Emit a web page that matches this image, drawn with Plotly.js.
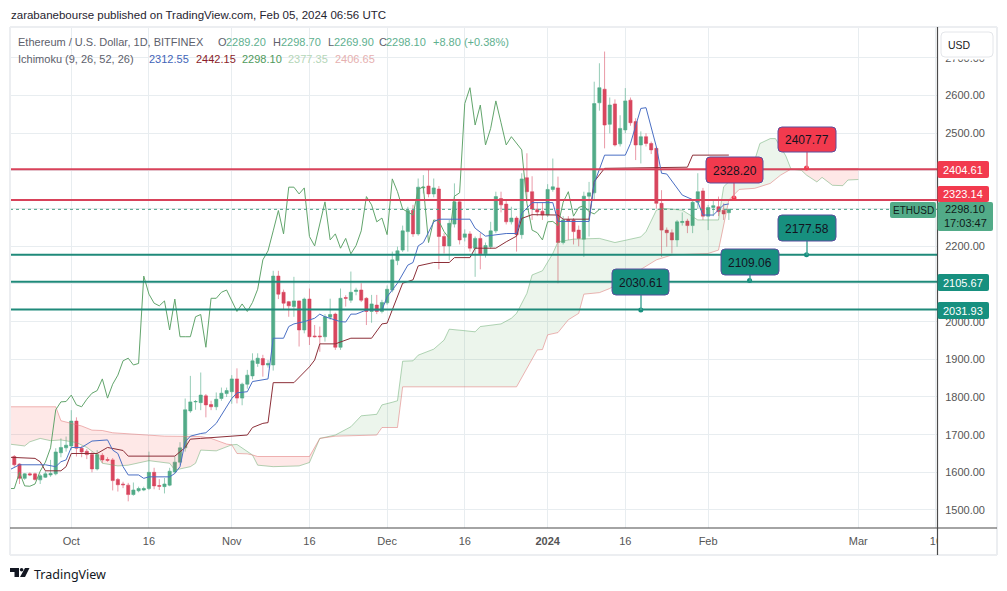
<!DOCTYPE html>
<html><head><meta charset="utf-8">
<script src="https://cdn.plot.ly/plotly-3.0.1.min.js"></script>
<style>html,body{margin:0;padding:0;background:#fff}#c{width:1007px;height:591px}</style></head>
<body><div id="c"></div>
<script>
const opens=[1642,1622,1584,1596,1596,1580,1587,1593,1596,1652,
1665,1670,1736,1664,1656,1647,1609,1645,1634,1633,
1581,1569,1566,1541,1551,1553,1557,1600,1565,1562,
1566,1601,1627,1665,1763,1787,1785,1803,1780,1774,
1796,1809,1814,1848,1797,1834,1856,1889,1902,1885,
1885,2121,2078,2053,2040,2055,1978,2060,1962,1962,
1960,2012,2020,1932,2064,2057,2080,2084,2062,2027,
2044,2027,2050,2084,2162,2190,2239,2296,2233,2355,
2360,2339,2352,2226,2201,2259,2318,2224,2233,2195,
2221,2180,2199,2241,2327,2312,2265,2275,2231,2382,
2345,2298,2293,2283,2351,2355,2210,2271,2270,2243,
2219,2333,2342,2581,2617,2524,2578,2472,2509,2588,
2531,2469,2491,2473,2460,2314,2243,2236,2217,2263,
2267,2255,2317,2347,2280,2303,2305,2296,2289.2];
const closes=[1620,1584,1596,1593,1581,1591,1596,1597,1654,1666,
1672,1736,1664,1654,1647,1609,1647,1633,1632,1578,
1567,1567,1541,1553,1557,1557,1600,1564,1563,1569,
1603,1627,1665,1766,1787,1788,1805,1779,1774,1794,
1810,1817,1848,1797,1834,1858,1896,1903,1885,1889,
2121,2073,2049,2042,2055,1978,2060,1960,1960,1960,
2013,2019,1932,2062,2062,2078,2084,2057,2027,2047,
2027,2051,2086,2164,2188,2241,2295,2233,2357,2357,
2339,2355,2226,2201,2261,2318,2217,2233,2195,2221,
2180,2202,2241,2332,2310,2265,2275,2231,2379,2345,
2299,2291,2283,2351,2358,2210,2270,2267,2239,2221,
2333,2342,2579,2621,2522,2575,2469,2513,2586,2528,
2469,2491,2473,2456,2314,2243,2236,2217,2265,2266,
2255,2317,2345,2280,2303,2308,2292,2286,2298.1];
const highs=[1646,1624,1598,1600,1599,1596,1603,1633,1664,1690,
1695,1765,1746,1670,1662,1655,1659,1651,1640,1638,
1585,1575,1572,1573,1562,1562,1655,1612,1582,1585,
1612,1642,1680,1796,1856,1792,1865,1808,1790,1812,
1825,1825,1858,1876,1838,1872,1916,1916,1912,1898,
2135,2135,2085,2055,2119,2056,2064,2088,1991,1987,
2020,2061,2024,2088,2070,2133,2090,2102,2065,2071,
2071,2058,2096,2186,2199,2255,2305,2310,2380,2389,
2404,2380,2360,2235,2270,2367,2322,2245,2240,2226,
2235,2210,2265,2345,2345,2320,2305,2280,2394,2447,
2386,2315,2315,2365,2433,2385,2280,2280,2275,2255,
2345,2371,2637,2686,2717,2595,2590,2548,2620,2595,
2540,2505,2500,2478,2465,2349,2250,2245,2270,2290,
2273,2322,2394,2355,2310,2325,2332,2314,2298.7];
const lows=[1615,1569,1580,1590,1578,1569,1585,1588,1592,1640,
1655,1660,1642,1640,1635,1600,1605,1625,1628,1552,
1549,1558,1523,1538,1547,1550,1553,1555,1553,1544,
1563,1597,1620,1655,1758,1766,1765,1746,1765,1765,
1790,1800,1782,1783,1778,1822,1847,1880,1854,1878,
1870,2060,2031,2013,2013,1934,1969,1938,1958,1920,
1947,2005,1925,1925,2040,2050,2070,2052,1991,1997,
2020,2022,2045,2078,2150,2185,2186,2225,2228,2340,
2330,2330,2139,2181,2163,2250,2205,2213,2186,2119,
2139,2170,2193,2235,2290,2258,2258,2186,2220,2323,
2270,2280,2270,2278,2345,2102,2205,2217,2205,2200,
2172,2226,2322,2560,2460,2500,2465,2465,2500,2520,
2429,2420,2465,2445,2300,2172,2199,2181,2199,2255,
2235,2235,2300,2270,2243,2280,2280,2270,2269.9];
// Ichimoku lagging span, first value belongs to the day before the first candle
const lagValues=[1557,1557,1600,1564,1563,1569,1603,1627,1665,1766,1787,1788,1805,1779,1774,1794,
1810,1817,1848,1797,1834,1858,1896,1903,1885,1889,
2121,2073,2049,2042,2055,1978,2060,1960,1960,1960,
2013,2019,1932,2062,2062,2078,2084,2057,2027,2047,
2027,2051,2086,2164,2188,2241,2295,2233,2357,2357,
2339,2355,2226,2201,2261,2318,2217,2233,2195,2221,
2180,2202,2241,2332,2310,2265,2275,2231,2379,2345,
2299,2291,2283,2351,2358,2210,2270,2267,2239,2221,
2333,2342,2579,2621,2522,2575,2469,2513,2586,2528,
2469,2491,2473,2456,2314,2243,2236,2217,2265,2266,
2255,2317,2345,2280,2303,2308,2292,2286,2298.1];
const convDays=[-1,1,6,8,9,10,11,13,15,17,18,19,20,21,22,24,25,26,30,31,32,33,34,36,37,39,40,42,43,45,46,49,50,52,53,54,56,58,59,60,63,64,65,66,68,71,72,74,76,77,78,79,81,82,88,89,91,95,97,98,100,104,105,111,112,114,118,119,121,122,124,125,126,129,132,133,135,137,138];
const convValues=[1606,1620,1620,1615,1628,1633,1666,1666,1683,1686,1686,1659,1650,1615,1593,1593,1584,1588,1588,1597,1615,1681,1696,1703,1705,1730,1752,1796,1811,1814,1841,1848,1956,1956,1987,1994,2000,2009,2020,2013,2000,1999,2020,2020,2031,2031,2066,2102,2150,2157,2201,2210,2265,2272,2272,2248,2227,2234,2234,2287,2316,2316,2266,2266,2367,2442,2442,2473,2566,2568,2464,2394,2392,2336,2318,2283,2283,2310,2312.55];
const baseDays=[-1,4,5,6,9,10,11,16,18,21,22,31,33,34,36,42,45,46,48,49,50,54,57,58,59,62,65,69,71,72,75,77,78,81,84,85,88,89,93,95,97,98,100,105,106,111,112,114,130,131,138];
const baseValues=[1640,1637,1628,1604,1604,1615,1650,1650,1666,1658,1643,1643,1666,1688,1690,1695,1699,1719,1730,1732,1838,1838,1880,1898,1941,1941,1956,1956,1994,1996,2102,2111,2148,2157,2157,2170,2170,2195,2195,2212,2227,2274,2284,2283,2272,2272,2372,2407,2410,2442,2442.15];
const spanADays=[-1,2,3,5,7,9,12,14,16,17,20,22,26,30,31,34,35,36,39,42,43,45,46,47,50,55,57,59,62,65,67,70,71,73,74,75,77,78,81,83,84,87,89,90,94,96,97,99,100,102,104,105,108,113,116,121,122,124,125,129,131,132,136,137,139,143,144,146,147,149,150,152,153,155,156,158,160,161,163];
const spanAValues=[1675,1670,1681,1690,1684,1686,1679,1666,1646,1624,1617,1619,1631,1624,1606,1615,1624,1659,1657,1673,1674,1655,1646,1619,1615,1617,1626,1690,1699,1721,1750,1754,1779,1786,1790,1895,1896,1911,1927,1951,1980,1976,1973,1987,1994,2009,2022,2075,2124,2135,2181,2212,2219,2221,2210,2225,2239,2296,2301,2296,2279,2270,2270,2358,2385,2429,2473,2486,2486,2440,2405,2402,2389,2371,2383,2362,2361,2376,2377.35];
const spanBDays=[-1,8,9,11,13,15,17,19,25,29,36,38,41,42,43,45,46,47,57,58,59,62,70,71,74,75,97,101,102,103,105,107,109,110,113,115,124,127,134,136,137,138,140,143,146,148,150,153,163];
const spanBValues=[1774,1774,1737,1730,1723,1712,1711,1705,1699,1696,1695,1690,1675,1673,1650,1649,1646,1642,1642,1666,1690,1696,1699,1719,1719,1827,1827,1925,1926,1965,1971,2005,2022,2073,2077,2088,2164,2177,2181,2190,2252,2323,2351,2354,2367,2389,2405,2406,2406.65];
// Days where span A and span B cross, delimiting red and green cloud segments
const cloudRed=[[-1,42],[46,59],[150,163]];
const cloudGreen=[[42,46],[59,150]];
const resistanceLevels=[2404.61,2323.14];
const supportLevels=[2177.58,2105.67,2031.93];
const lastPrice=2298.1;
const calloutDays=[153,139,153,142,121];
const calloutValues=[2407.77,2328.20,2177.58,2109.06,2030.61];
const tickDates=['2023-10-01','2023-10-16','2023-11-01','2023-11-16','2023-12-01','2023-12-16','2024-01-01','2024-01-16','2024-02-01','2024-03-01','2024-03-16'];
const tickLabels=['Oct','16','Nov','16','Dec','16','<b>2024</b>','16','Feb','Mar','16'];
const priceTicks=[1500,1600,1700,1800,1900,2000,2100,2200,2300,2400,2500,2600,2700];
const priceLabels=['1500.00','1600.00','1700.00','1800.00','1900.00','2000.00','','2200.00','','','2500.00','2600.00','2700.00'];

const FONT='"Liberation Sans",sans-serif';
const GREEN='#52ab88',RED='#d8465e',TEAL='#17907f',LABELRED='#f23a4e';
const day=i=>new Date(Date.UTC(2023,8,20+i)).toISOString().slice(0,10);
const days=opens.map((_,i)=>day(i));
const xStart='2023-09-19 04:00',xEnd='2024-03-16 04:48';

function line(xs,ys,color,w){return {type:'scatter',mode:'lines',x:xs.map(day),y:ys,line:{color:color,width:w||1},hoverinfo:'skip'};}
function cloud(seg,fill){
  const ax=[],ay=[],bx=[],by=[];
  spanADays.forEach((d,k)=>{if(d>=seg[0]&&d<=seg[1]){ax.push(day(d));ay.push(spanAValues[k]);}});
  spanBDays.forEach((d,k)=>{if(d>=seg[0]&&d<=seg[1]){bx.push(day(d));by.push(spanBValues[k]);}});
  return {type:'scatter',mode:'none',x:ax.concat(bx.reverse()),y:ay.concat(by.reverse()),fill:'toself',fillcolor:fill,hoverinfo:'skip'};
}
function hline(v,color,w,dash){return {type:'scatter',mode:'lines',x:[xStart,xEnd],y:[v,v],line:{color:color,width:w,dash:dash||'solid'},hoverinfo:'skip'};}
const traces=[
  ...cloudRed.map(s=>cloud(s,'rgba(244,67,54,0.12)')),
  ...cloudGreen.map(s=>cloud(s,'rgba(67,160,71,0.10)')),
  line(spanADays,spanAValues,'rgba(102,170,110,0.5)'),
  line(spanBDays,spanBValues,'rgba(224,120,120,0.55)'),
  {type:'candlestick',x:days,open:opens,high:highs,low:lows,close:closes,
   increasing:{line:{color:'rgba(82,171,136,0.6)',width:1},fillcolor:GREEN},
   decreasing:{line:{color:'rgba(216,70,94,0.55)',width:1},fillcolor:RED},
   whiskerwidth:0,hoverinfo:'skip'},
  line(lagValues.map((_,k)=>k-1),lagValues,'#62a56c'),
  line(baseDays,baseValues,'#8c2f38'),
  line(convDays,convValues,'#4a6fc4'),
  hline(lastPrice,'#4c9f86',1,'dot'),
  ...resistanceLevels.map(v=>hline(v,'#d8425a',2)),
  ...supportLevels.map(v=>hline(v,'#1f8a7a',2)),
  {type:'scatter',mode:'markers',x:calloutDays.map(day),y:calloutValues,hoverinfo:'skip',
   marker:{size:5,color:[LABELRED,LABELRED,TEAL,TEAL,TEAL],line:{width:0}}},
];

const W=927,H=501,L=10,T=27;
const px=x=>(x-L)/W, py=y=>1-(y-T)/H;
function rr(x0,y0,x1,y1,r,fill,border,bw){
  const P=(x,y)=>px(x)+','+py(y);
  const d='M'+P(x0+r,y0)+' L'+P(x1-r,y0)+' Q'+P(x1,y0)+' '+P(x1,y0+r)+' L'+P(x1,y1-r)+' Q'+P(x1,y1)+' '+P(x1-r,y1)+
    ' L'+P(x0+r,y1)+' Q'+P(x0,y1)+' '+P(x0,y1-r)+' L'+P(x0,y0+r)+' Q'+P(x0,y0)+' '+P(x0+r,y0)+' Z';
  return {type:'path',xref:'paper',yref:'paper',path:d,fillcolor:fill,line:{color:border||fill,width:bw===undefined?1:bw},layer:'above'};
}
function rect(x0,y0,x1,y1,fill){return {type:'rect',xref:'paper',yref:'paper',x0:px(x0),x1:px(x1),y0:py(y0),y1:py(y1),fillcolor:fill,line:{width:0},layer:'above'};}
function seg(x0,y0,x1,y1,c,w){return {type:'line',xref:'paper',yref:'paper',x0:px(x0),x1:px(x1),y0:py(y0),y1:py(y1),line:{color:c,width:w||1},layer:'above'};}
function txt(x,y,s,o){o=o||{};return {xref:'paper',yref:'paper',x:px(x),y:py(y),text:s,showarrow:false,xanchor:o.anchor||'left',yanchor:'middle',
  font:{family:o.family||FONT,size:o.size||11,color:o.color||'#555'},borderpad:0,align:o.align||'left'};}

const shapes=[
  rect(938,529,996,554,'#ffffff'),
  rect(938,28,996,59.5,'#ffffff'),
  seg(10,27,997,27,'#eceef1',2), seg(10,27,10,555,'#eceef1',2),
  seg(997,27,997,555,'#eceef1',2), seg(10,555,997,555,'#eceef1',2),
  seg(10,528,997,528,'#4a4a4a',1.2), seg(937.5,27,937.5,555,'#4a4a4a',1.2),
];
// callout boxes: [x0,y0,x1,y1, colour, connector x, dot y]
const boxes=[[778,127,836,152,LABELRED,807,168],[706,157,763,183,LABELRED,734,198],[778,215,836,241,TEAL,807,255],[721,249,779,275,TEAL,750,281],[612,269,669,295,TEAL,641,310]];
const annotations=[];
boxes.forEach((b,k)=>{
  shapes.push(seg(b[5],b[3],b[5],b[6],b[4]==TEAL?'#4aa89a':'#e8788a',1.5));
  shapes.push(rr(b[0],b[1],b[2],b[3],4,b[4],'#5a4f9e',1));
  annotations.push(txt((b[0]+b[2])/2,(b[1]+b[3])/2+0.5,calloutValues[k].toFixed(2),{anchor:'center',size:12,color:'#13131f'}));
});
// price-scale labels
[[161,178,LABELRED,'2404.61'],[186,202,LABELRED,'2323.14'],[274,291,TEAL,'2105.67'],[302,319,TEAL,'2031.93']].forEach(l=>{
  shapes.push(rr(937.5,l[0],989,l[1],2,l[2],l[2],0));
  annotations.push(txt(963,(l[0]+l[1])/2,l[3],{anchor:'center',size:11,color:'#ffffff'}));
});
shapes.push(rr(937.5,202,993,231,2,GREEN,GREEN,0));
annotations.push(txt(965,209.5,'2298.10',{anchor:'center',color:'#10201a'}));
annotations.push(txt(965,222.5,'17:03:47',{anchor:'center',color:'#10201a'}));
shapes.push(rr(890,202,936,218,2,GREEN,GREEN,0));
annotations.push(txt(913,210,'ETHUSD',{anchor:'center',size:10,color:'#10201a'}));
shapes.push(rr(941,32,993,57,4,'#ffffff','#e4e6ea',1));
annotations.push(txt(959,44.5,'USD',{anchor:'center',size:10.5,color:'#222'}));

// header
annotations.push(txt(10,15,'zarabanebourse published on TradingView.com, Feb 05, 2024 06:56 UTC',{size:11.5,color:'#1f2430'}));
const VAL='#5eb08f';
[[17,'Ethereum / U.S. Dollar, 1D, BITFINEX','#5d606b'],[217,'O','#5d606b'],[225,'2289.20',VAL],[272,'H','#5d606b'],[280,'2298.70',VAL],[327,'L','#5d606b'],[333,'2269.90',VAL],[378,'C','#5d606b'],[385,'2298.10',VAL],[432,'+8.80 (+0.38%)',VAL]]
 .forEach(t=>annotations.push(txt(t[0],42,t[1],{color:t[2],size:11})));
[[17,'Ichimoku (9, 26, 52, 26)','#5d606b'],[148,'2312.55','#3f64b8'],[195,'2442.15','#8a1c2a'],[241,'2298.10','#4f9a5c'],[287,'2377.35','#b5d6b8'],[334,'2406.65','#e6b0b0']]
 .forEach(t=>annotations.push(txt(t[0],59,t[1],{color:t[2],size:11})));
// logo
shapes.push({type:'path',xref:'paper',yref:'paper',fillcolor:'#131722',line:{width:0},layer:'above',
  path:['M'+px(10)+','+py(568),'L'+px(19)+','+py(568),'L'+px(19)+','+py(577),'L'+px(14.5)+','+py(577),'L'+px(14.5)+','+py(572),'L'+px(10)+','+py(572),'Z',
        'M'+px(25)+','+py(568),'L'+px(29.5)+','+py(568),'L'+px(25)+','+py(577),'L'+px(20)+','+py(577),'Z'].join(' ')});
shapes.push({type:'circle',xref:'paper',yref:'paper',x0:px(19.8),x1:px(23.4),y0:py(568),y1:py(571.6),fillcolor:'#131722',line:{width:0},layer:'above'});
annotations.push(txt(33,574,'TradingView',{family:'"Noto Sans",sans-serif',size:12.5,color:'#131722'}));

const layout={
  width:1007,height:591,paper_bgcolor:'#fff',plot_bgcolor:'#fff',showlegend:false,hovermode:false,dragmode:false,boxgap:0.12,
  margin:{l:L,r:1007-L-W,t:T,b:591-T-H,pad:0},
  xaxis:{type:'date',range:[xStart,xEnd],tickvals:tickDates,ticktext:tickLabels,tickangle:0,
    showgrid:true,gridcolor:'#e8edf0',gridwidth:1,zeroline:false,showline:false,ticks:'outside',ticklen:3,tickcolor:'rgba(0,0,0,0)',
    tickfont:{family:FONT,size:11,color:'#555'},rangeslider:{visible:false},fixedrange:true},
  yaxis:{side:'right',range:[1452.2,2782.2],tickvals:priceTicks,ticktext:priceLabels,showgrid:true,gridcolor:'#e8edf0',gridwidth:1,zeroline:false,showline:false,
    ticks:'outside',ticklen:5,tickcolor:'rgba(0,0,0,0)',tickfont:{family:FONT,size:11,color:'#555'},fixedrange:true},
  shapes:shapes,annotations:annotations
};
Plotly.newPlot('c',traces,layout,{displayModeBar:false,staticPlot:true});
</script></body></html>
